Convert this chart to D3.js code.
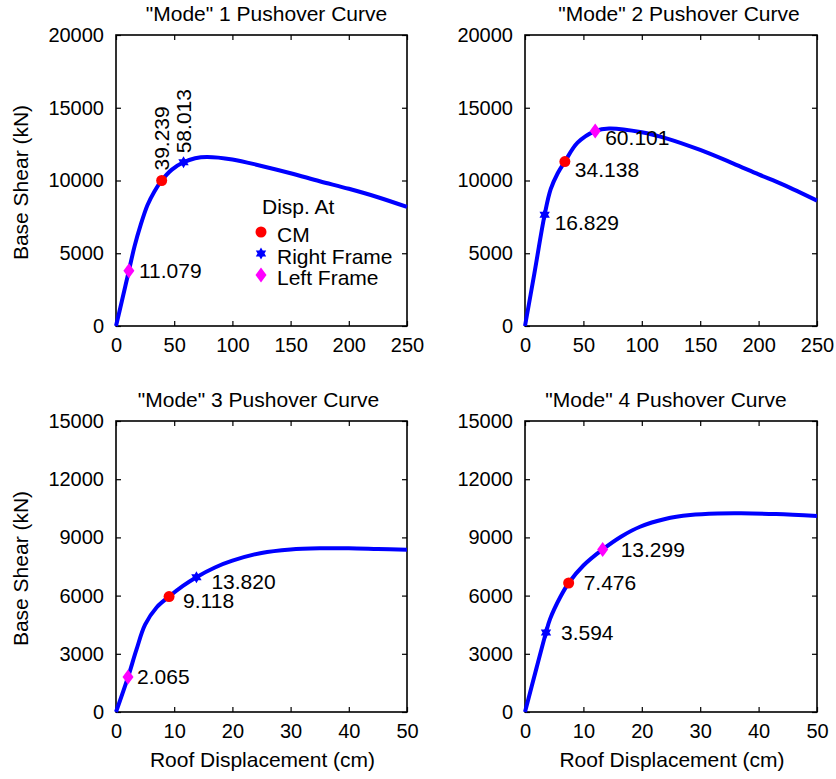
<!DOCTYPE html>
<html>
<head>
<meta charset="utf-8">
<script src="https://cdn.jsdelivr.net/npm/d3@7"></script>
<style>
  html, body { margin: 0; padding: 0; background: #fff; }
  svg { display: block; }
  text { font-family: "Liberation Sans", Arial, Helvetica, sans-serif; fill: #000; }
</style>
</head>
<body>
<svg id="chart" width="836" height="779"></svg>
<script>
// ---------------- data ----------------
const titles = ['"Mode" 1 Pushover Curve', '"Mode" 2 Pushover Curve', '"Mode" 3 Pushover Curve', '"Mode" 4 Pushover Curve'];
const xTicksWide = [0, 50, 100, 150, 200, 250];
const yTicksWide = [0, 5000, 10000, 15000, 20000];
const xTicksNarrow = [0, 10, 20, 30, 40, 50];
const yTicksNarrow = [0, 3000, 6000, 9000, 12000, 15000];
const xLabel = "Roof Displacement (cm)";
const yLabel = "Base Shear (kN)";
const legendTitle = "Disp. At";
const markerNames = ["CM", "Right Frame", "Left Frame"];

// pushover curves: [roof displacement (cm), base shear (kN)]
const curve1 = [[0,0],[5,1700],[11.079,3800],[16,5500],[21,6900],[27,8300],[33,9250],[39.239,10000],[48,10750],[58.013,11250],[68,11530],[78,11620],[100,11450],[125,11000],[150,10500],[175,9950],[200,9430],[225,8850],[250,8180]];
const curve2 = [[0,0],[8,3600],[16.829,7650],[22,9400],[28,10500],[34.138,11300],[45,12600],[60.101,13400],[72,13580],[100,13320],[121,12900],[150,12100],[178,11180],[200,10420],[221,9720],[250,8620]];
const curve3 = [[0,0],[2.065,1800],[3.5,3200],[5,4500],[7,5400],[9.118,5950],[11.5,6500],[13.82,6950],[17,7450],[20,7800],[25,8200],[30,8380],[35,8440],[40,8440],[45,8400],[50,8360]];
const curve4 = [[0,0],[2,2300],[3.594,4100],[4.3,4800],[6,5900],[7.476,6650],[10,7550],[13.299,8380],[16.5,9050],[19.7,9550],[24,9950],[28.3,10150],[33,10230],[37,10240],[43,10200],[50,10100]];

// marker points per mode: [displacement, base shear] for CM, Right Frame, Left Frame
const cmPts    = [[39.239,10000],[34.138,11300],[9.118,5950],[7.476,6650]];
const rightPts = [[58.013,11250],[16.829,7650],[13.82,6950],[3.594,4100]];
const leftPts  = [[11.079,3800],[60.101,13400],[2.065,1800],[13.299,8380]];

// ---------------- layout / style ----------------
const panels = [
  {x0:116, x1:407, y0:35,  y1:326, xMax:250, yMax:20000, xt:xTicksWide,   yt:yTicksWide,   curve:curve1, titleDx:5,  showY:true,  showX:false, legend:true},
  {x0:525, x1:817, y0:35,  y1:326, xMax:250, yMax:20000, xt:xTicksWide,   yt:yTicksWide,   curve:curve2, titleDx:8,  showY:false, showX:false, legend:false},
  {x0:116, x1:407, y0:421, y1:712, xMax:50,  yMax:15000, xt:xTicksNarrow, yt:yTicksNarrow, curve:curve3, titleDx:-3, showY:true,  showX:true,  legend:false},
  {x0:525, x1:817, y0:421, y1:712, xMax:50,  yMax:15000, xt:xTicksNarrow, yt:yTicksNarrow, curve:curve4, titleDx:-5, showY:false, showX:true,  legend:false}
];
// label offsets [dx, dy, rotated] for CM, Right, Left in each panel
const labelOffsets = [
  [[0,-10,true],[0,-9,true],[10,0,false]],
  [[10,8,false],[10,8,false],[10,7,false]],
  [[14,4,false],[15,4,false],[9,0,false]],
  [[15,0,false],[15,0,false],[18,0,false]]
];
const colors = {line:"#0000ff", cm:"#ff0000", right:"#0000ff", left:"#ff00ff"};
const fsTick = 20, fs = 21;

const svg = d3.select("#chart");

function hexagram(cx, cy, r) {
  const tri = (a0) => d3.range(3).map(i => {
    const a = (a0 + i*120) * Math.PI/180;
    return [cx + r*Math.cos(a), cy + r*Math.sin(a)];
  });
  const p = t => "M" + t.map(q => q.join(",")).join("L") + "Z";
  return p(tri(-90)) + p(tri(90));
}
function diamond(cx, cy, w, h) {
  return `M${cx},${cy-h}L${cx+w},${cy}L${cx},${cy+h}L${cx-w},${cy}Z`;
}
function drawMarker(g, type, cx, cy) {
  if (type === 0) g.append("circle").attr("cx", cx).attr("cy", cy).attr("r", 5.5).attr("fill", colors.cm);
  else if (type === 1) g.append("path").attr("d", hexagram(cx, cy, 6)).attr("fill", colors.right);
  else g.append("path").attr("d", diamond(cx, cy, 5.5, 7.5)).attr("fill", colors.left);
}

const fmt = d3.format(".3f");

panels.forEach((p, i) => {
  const x = d3.scaleLinear().domain([0, p.xMax]).range([p.x0, p.x1]);
  const y = d3.scaleLinear().domain([0, p.yMax]).range([p.y1, p.y0]);
  const g = svg.append("g");

  // axes with inward ticks
  const ax = [
    g.append("g").attr("transform", `translate(0,${p.y1})`).call(d3.axisBottom(x).tickValues(p.xt).tickSizeInner(-5).tickSizeOuter(0).tickPadding(12).tickFormat(d3.format("d"))),
    g.append("g").attr("transform", `translate(${p.x0},0)`).call(d3.axisLeft(y).tickValues(p.yt).tickSizeInner(-5).tickSizeOuter(0).tickPadding(12).tickFormat(d3.format("d"))),
    g.append("g").attr("transform", `translate(0,${p.y0})`).call(d3.axisTop(x).tickValues(p.xt).tickSizeInner(-5).tickSizeOuter(0).tickFormat("")),
    g.append("g").attr("transform", `translate(${p.x1},0)`).call(d3.axisRight(y).tickValues(p.yt).tickSizeInner(-5).tickSizeOuter(0).tickFormat(""))
  ];
  ax.forEach(a => {
    a.select(".domain").remove();
    a.selectAll(".tick line").attr("stroke", "#000").attr("stroke-width", 1.2);
    a.selectAll(".tick text").attr("font-size", fsTick).attr("font-family", '"Liberation Sans", Arial, sans-serif').attr("fill", "#000");
  });
  g.append("rect").attr("x", p.x0).attr("y", p.y0).attr("width", p.x1 - p.x0).attr("height", p.y1 - p.y0)
    .attr("fill", "none").attr("stroke", "#000").attr("stroke-width", 1.6);

  // curve
  const line = d3.line().x(d => x(d[0])).y(d => y(d[1])).curve(d3.curveCatmullRom.alpha(0.5));
  g.append("path").datum(p.curve).attr("d", line).attr("fill", "none")
    .attr("stroke", colors.line).attr("stroke-width", 4).attr("stroke-linejoin", "round");

  // markers & labels
  [cmPts[i], rightPts[i], leftPts[i]].forEach((pt, k) => {
    const cx = x(pt[0]), cy = y(pt[1]);
    drawMarker(g, k, cx, cy);
    const [dx, dy, rot] = labelOffsets[i][k];
    const t = g.append("text").attr("font-size", fs).text(fmt(pt[0]));
    if (rot) {
      t.attr("transform", `translate(${cx + dx + 7},${cy + dy}) rotate(-90)`).attr("text-anchor", "start");
    } else {
      t.attr("x", cx + dx).attr("y", cy + dy).attr("dy", "0.35em");
    }
  });

  // title
  svg.append("text").attr("x", (p.x0 + p.x1)/2 + p.titleDx).attr("y", p.y0 - 14)
    .attr("text-anchor", "middle").attr("font-size", fs).text(titles[i]);

  if (p.showY) {
    svg.append("text").attr("transform", `translate(${p.x0 - 88},${(p.y0 + p.y1)/2 + 2}) rotate(-90)`)
      .attr("text-anchor", "middle").attr("font-size", fs).text(yLabel);
  }
  if (p.showX) {
    svg.append("text").attr("x", (p.x0 + p.x1)/2 + 1).attr("y", p.y1 + 55)
      .attr("text-anchor", "middle").attr("font-size", fs).text(xLabel);
  }

  if (p.legend) {
    const lx = 261, ly = 207;
    const lg = svg.append("g");
    lg.append("text").attr("x", lx + 1).attr("y", ly).attr("dy", "0.35em").attr("font-size", fs).text(legendTitle);
    markerNames.forEach((name, k) => {
      const yy = ly + 25 + k * 21.5;
      drawMarker(lg, k, lx, yy);
      lg.append("text").attr("x", lx + 16).attr("y", yy + 3).attr("dy", "0.35em").attr("font-size", fs).text(name);
    });
  }
});
</script>
</body>
</html>
